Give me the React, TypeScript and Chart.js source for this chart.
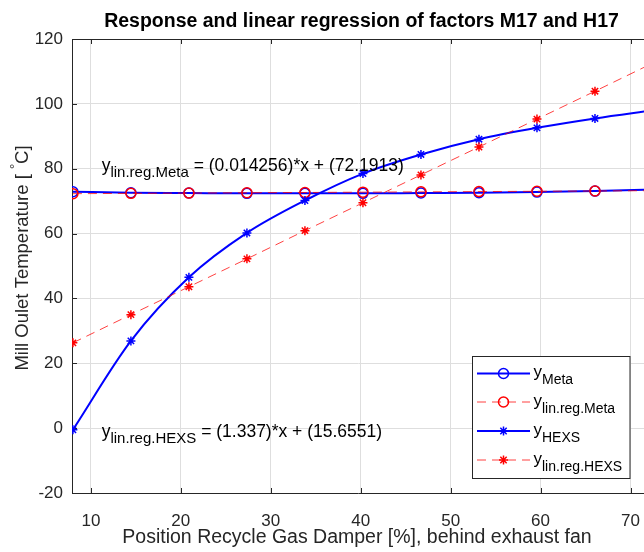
import React, { useEffect, useRef } from "react";
import { Chart, registerables } from "chart.js";

Chart.register(...registerables);

// ---------- data ----------
const xPositions = [8, 14.45, 20.9, 27.35, 33.8, 40.25, 46.7, 53.15, 59.6, 66.05, 72.5];
const yMeta = [72.9, 72.6, 72.5, 72.4, 72.4, 72.4, 72.5, 72.6, 72.8, 73.1, 73.6];
const yLinRegMeta = [72.3, 72.4, 72.49, 72.58, 72.67, 72.77, 72.86, 72.95, 73.04, 73.13, 73.23];
const yHEXS = [-0.5, 26.9, 46.5, 60.2, 70.2, 78.5, 84.4, 89.1, 92.6, 95.5, 98.0];
const yLinRegHEXS = [26.3, 35.0, 43.6, 52.2, 60.9, 69.5, 78.1, 86.7, 95.3, 103.9, 112.6];
const xTicks = [10, 20, 30, 40, 50, 60, 70];
const yTicks = [-20, 0, 20, 40, 60, 80, 100, 120];
const seriesSubscripts = ["Meta", "lin.reg.Meta", "HEXS", "lin.reg.HEXS"];
const titleText = "Response and linear regression of factors M17 and H17";
const xLabel = "Position Recycle Gas Damper [%], behind exhaust fan";
const yLabelMain = "Mill Oulet Temperature [ ";
const yLabelDeg = "°";
const yLabelEnd = "C]";
const metaEquation = " = (0.014256)*x + (72.1913)";
const hexsEquation = " = (1.337)*x + (15.6551)";

const FONT = "'Liberation Sans', Arial, Helvetica, sans-serif";
const AXIS = "#262626";
const BLUE = "#0000ff";
const RED = "#ff0000";
const RED_LINE = "rgba(255,0,0,0.75)";

type Part = { text: string; size: number; dy?: number; bold?: boolean };

function drawParts(ctx: CanvasRenderingContext2D, x: number, y: number, parts: Part[]) {
  let cx = x;
  for (const p of parts) {
    ctx.font = `${p.bold ? "bold " : ""}${p.size}px ${FONT}`;
    ctx.fillText(p.text, cx, y + (p.dy || 0));
    cx += ctx.measureText(p.text).width;
  }
  return cx;
}
function partsWidth(ctx: CanvasRenderingContext2D, parts: Part[]) {
  let w = 0;
  for (const p of parts) {
    ctx.font = `${p.bold ? "bold " : ""}${p.size}px ${FONT}`;
    w += ctx.measureText(p.text).width;
  }
  return w;
}

const decorPlugin = {
  id: "decor",
  beforeDatasetsDraw(chart: any) {
    const { ctx, chartArea: a, scales } = chart;
    ctx.save();
    ctx.strokeStyle = AXIS;
    ctx.lineWidth = 1;
    ctx.beginPath();
    for (const v of xTicks) {
      const px = Math.round(scales.x.getPixelForValue(v)) + 0.5;
      ctx.moveTo(px, a.bottom);
      ctx.lineTo(px, a.bottom - 5);
      ctx.moveTo(px, a.top);
      ctx.lineTo(px, a.top + 5);
    }
    for (const v of yTicks) {
      const py = Math.round(scales.y.getPixelForValue(v)) + 0.5;
      ctx.moveTo(a.left, py);
      ctx.lineTo(a.left + 5, py);
    }
    ctx.stroke();
    ctx.beginPath();
    ctx.moveTo(a.left, Math.round(a.top) + 0.5);
    ctx.lineTo(a.right, Math.round(a.top) + 0.5);
    ctx.stroke();
    ctx.restore();
  },
  afterDraw(chart: any) {
    const { ctx, scales } = chart;
    ctx.save();
    // title
    ctx.fillStyle = "#000";
    ctx.textAlign = "center";
    ctx.textBaseline = "middle";
    ctx.font = `bold 19.5px ${FONT}`;
    ctx.fillText(titleText, 361.5, 22);
    // x label
    ctx.fillStyle = AXIS;
    ctx.font = `19.5px ${FONT}`;
    ctx.fillText(xLabel, 357, 538);
    // y label (rotated)
    ctx.save();
    ctx.translate(23, 258);
    ctx.rotate(-Math.PI / 2);
    ctx.textAlign = "left";
    ctx.textBaseline = "middle";
    const yParts: Part[] = [
      { text: yLabelMain, size: 18.5 },
      { text: yLabelDeg, size: 13, dy: -8 },
      { text: yLabelEnd, size: 18.5 },
    ];
    const w = partsWidth(ctx, yParts);
    drawParts(ctx, -w / 2, 0, yParts);
    ctx.restore();

    // equations
    ctx.textAlign = "left";
    ctx.textBaseline = "alphabetic";
    ctx.fillStyle = "#000";
    const ax = scales.x.getPixelForValue(11.2);
    drawParts(ctx, ax, scales.y.getPixelForValue(79.3), [
      { text: "y", size: 17.5 },
      { text: seriesSubscripts[1], size: 15, dy: 6.5 },
      { text: metaEquation, size: 17.5 },
    ]);
    drawParts(ctx, ax, scales.y.getPixelForValue(-2.7), [
      { text: "y", size: 17.5 },
      { text: seriesSubscripts[3], size: 15, dy: 6.5 },
      { text: hexsEquation, size: 17.5 },
    ]);

    // legend
    const lx = 472.5, ly = 356.5, lw = 157.5, lh = 122;
    ctx.fillStyle = "#fff";
    ctx.fillRect(lx, ly, lw, lh);
    ctx.strokeStyle = AXIS;
    ctx.lineWidth = 1;
    ctx.strokeRect(lx, ly, lw, lh);
    const rows = [373.5, 402, 431, 460];
    const styles = [
      { color: BLUE, dash: [] as number[], width: 2, marker: "circle" },
      { color: RED_LINE, dash: [9, 6], width: 1, marker: "circle" },
      { color: BLUE, dash: [] as number[], width: 2, marker: "star" },
      { color: RED_LINE, dash: [9, 6], width: 1, marker: "star" },
    ];
    rows.forEach((ry, i) => {
      const s = styles[i];
      ctx.save();
      ctx.strokeStyle = s.color;
      ctx.lineWidth = s.width;
      ctx.setLineDash(s.dash);
      ctx.beginPath();
      ctx.moveTo(477, ry);
      ctx.lineTo(530, ry);
      ctx.stroke();
      ctx.restore();
      const mc = i % 2 === 0 ? BLUE : RED;
      ctx.save();
      ctx.strokeStyle = mc;
      ctx.lineWidth = 1.5;
      ctx.beginPath();
      if (s.marker === "circle") {
        ctx.arc(503.5, ry, 5, 0, Math.PI * 2);
      } else {
        const r = 4.5;
        ctx.moveTo(503.5 - r, ry);
        ctx.lineTo(503.5 + r, ry);
        ctx.moveTo(503.5, ry - r);
        ctx.lineTo(503.5, ry + r);
        const d = r * Math.SQRT1_2;
        ctx.moveTo(503.5 - d, ry - d);
        ctx.lineTo(503.5 + d, ry + d);
        ctx.moveTo(503.5 - d, ry + d);
        ctx.lineTo(503.5 + d, ry - d);
      }
      ctx.stroke();
      ctx.restore();
      ctx.fillStyle = "#000";
      drawParts(ctx, 533.5, ry + 3.7, [
        { text: "y", size: 17 },
        { text: seriesSubscripts[i], size: 14, dy: 7 },
      ]);
    });
    ctx.restore();
  },
};

export default function App() {
  const ref = useRef<HTMLCanvasElement | null>(null);
  useEffect(() => {
    if (!ref.current) return;
    const mk = (ys: number[]) => xPositions.map((x, i) => ({ x, y: ys[i] }));
    const chart = new Chart(ref.current, {
      type: "line",
      data: {
        datasets: [
          {
            label: "y_Meta",
            data: mk(yMeta),
            borderColor: BLUE,
            borderWidth: 2,
            pointStyle: "circle",
            pointRadius: 5,
            pointBorderWidth: 1.5,
            pointBorderColor: BLUE,
            pointBackgroundColor: "rgba(0,0,0,0)",
            cubicInterpolationMode: "monotone",
            order: 4,
          },
          {
            label: "y_lin.reg.Meta",
            data: mk(yLinRegMeta),
            borderColor: RED_LINE,
            borderWidth: 1,
            borderDash: [9, 6],
            pointStyle: "circle",
            pointRadius: 5,
            pointBorderWidth: 1.5,
            pointBorderColor: RED,
            pointBackgroundColor: "rgba(0,0,0,0)",
            tension: 0,
            order: 3,
          },
          {
            label: "y_HEXS",
            data: mk(yHEXS),
            borderColor: BLUE,
            borderWidth: 2,
            pointStyle: "star",
            pointRadius: 4.5,
            pointBorderWidth: 1.5,
            pointBorderColor: BLUE,
            pointBackgroundColor: BLUE,
            cubicInterpolationMode: "monotone",
            order: 2,
          },
          {
            label: "y_lin.reg.HEXS",
            data: mk(yLinRegHEXS),
            borderColor: RED_LINE,
            borderWidth: 1,
            borderDash: [9, 6],
            pointStyle: "star",
            pointRadius: 4.5,
            pointBorderWidth: 1.5,
            pointBorderColor: RED,
            pointBackgroundColor: RED,
            tension: 0,
            order: 1,
          },
        ],
      },
      options: {
        animation: false,
        responsive: false,
        maintainAspectRatio: false,
        layout: { autoPadding: false, padding: { top: 39, right: 0, bottom: 0, left: 0 } },
        plugins: { legend: { display: false }, title: { display: false }, tooltip: { enabled: false } },
        scales: {
          x: {
            type: "linear",
            min: 7.9,
            max: 71.5,
            afterBuildTicks: (s: any) => {
              s.ticks = xTicks.map((v) => ({ value: v }));
            },
            afterFit: (s: any) => {
              s.height = 59;
              s.paddingRight = 0;
              s.paddingLeft = 0;
            },
            grid: { color: "#dedede", drawTicks: false },
            border: { display: true, color: AXIS, width: 1 },
            ticks: { color: AXIS, padding: 18, font: { family: FONT, size: 17 }, maxRotation: 0 },
          },
          y: {
            type: "linear",
            min: -20,
            max: 120,
            afterBuildTicks: (s: any) => {
              s.ticks = yTicks.map((v) => ({ value: v }));
            },
            afterFit: (s: any) => {
              s.width = 72;
              s.paddingTop = 0;
              s.paddingBottom = 0;
            },
            grid: { color: "#dedede", drawTicks: false },
            border: { display: true, color: AXIS, width: 1 },
            ticks: { color: AXIS, padding: 9, font: { family: FONT, size: 17 } },
          },
        },
      },
      plugins: [decorPlugin],
    } as any);
    return () => chart.destroy();
  }, []);
  return (
    <div style={{ position: "fixed", left: 0, top: 0, width: 644, height: 552, background: "#fff" }}>
      <canvas ref={ref} width={644} height={552} style={{ display: "block", width: 644, height: 552 }} />
    </div>
  );
}
